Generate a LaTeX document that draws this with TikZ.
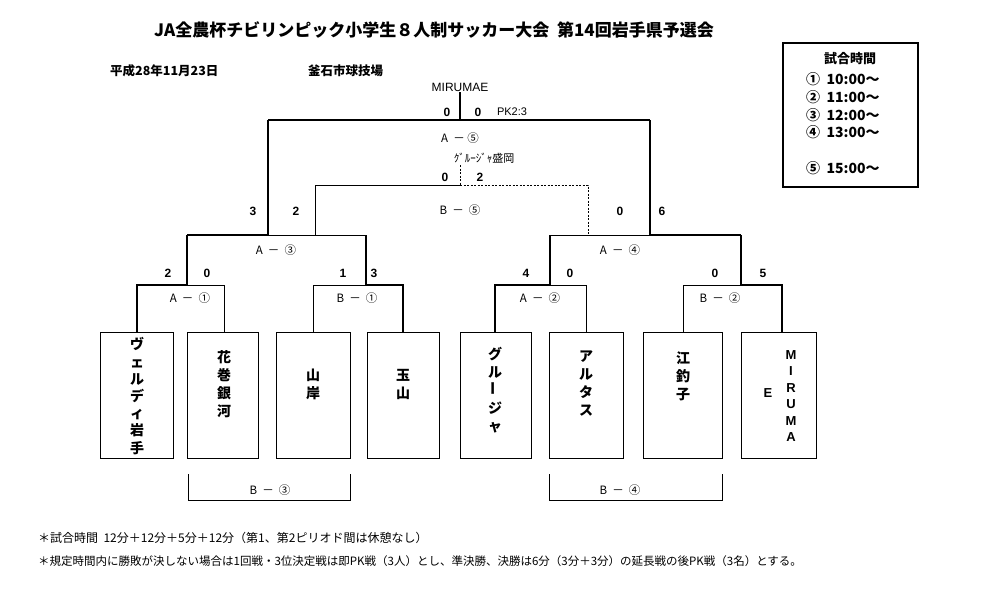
\documentclass[tikz,border=0pt]{standalone}
\usepackage{fontspec}
\usepackage{graphicx}
\setmainfont{Noto Sans CJK JP}
\newfontfamily\lat{Liberation Sans}
\begin{document}
\begin{tikzpicture}[x=1pt,y=-1pt,
  thin/.style={line width=0.7pt},
  bold/.style={line width=2.6pt},
  dsh/.style={line width=0.9pt,dash pattern=on 2pt off 1.5pt},
  box/.style={draw,line width=1pt},
  sc/.style={font=\lat\bfseries\fontsize{12}{14}\selectfont,inner sep=0pt},
  ml/.style={font=\fontsize{11.5}{13}\selectfont,inner sep=0pt},
  vt/.style={font=\bfseries\fontsize{14}{18}\selectfont,align=center,inner sep=0pt}]
\useasboundingbox (0,0) rectangle (999,606);
% leaf boxes
\foreach \n/\a/\b in {1/100/173,2/187/258,3/276/350,4/367/439,5/460/531,6/549/623,7/643/722,8/741/816}
  \draw[box] (\a,332) rectangle (\b,458);
\node[vt,font=\bfseries\fontsize{14}{17.2}\selectfont] at (137,396) {ヴ\\ェ\\ル\\デ\\ィ\\岩\\手};
\node[vt] at (224,384) {花\\巻\\銀\\河};
\node[vt] at (313,384) {山\\岸};
\node[vt] at (403,384) {玉\\山};
\node[vt] at (495,390) {グ\\ル\\{\rotatebox{90}{ー}}\\ジ\\ャ};
\node[vt] at (586,384) {ア\\ル\\タ\\ス};
\node[vt] at (683,376) {江\\釣\\子};
\node[vt,font=\lat\bfseries\fontsize{13}{16.5}\selectfont] at (791,396) {M\\I\\R\\U\\M\\A};
\node[sc,font=\lat\bfseries\fontsize{13}{15}\selectfont] at (768,393) {E};
% round 1
\draw[thin] (187,285) -- (224,285) -- (224,332);
\draw[bold] (137,332) -- (137,285) -- (187,285) -- (187,235);
\draw[thin] (313,332) -- (313,285) -- (366,285);
\draw[bold] (366,235) -- (366,285) -- (403,285) -- (403,332);
\draw[thin] (550,285) -- (586,285) -- (586,332);
\draw[bold] (495,332) -- (495,285) -- (550,285) -- (550,235);
\draw[thin] (683,332) -- (683,285) -- (741,285);
\draw[bold] (741,235) -- (741,285) -- (782,285) -- (782,332);
% semis
\draw[thin] (268,235) -- (366,235);
\draw[bold] (187,235) -- (268,235) -- (268,120);
\draw[thin] (550,235) -- (650,235);
\draw[bold] (741,235) -- (650,235) -- (650,120);
% third place
\draw[thin] (315,235) -- (315,185) -- (460,185);
\draw[dsh] (460,185) -- (588,185) -- (588,235);
\draw[dsh] (460,165) -- (460,185);
% final
\draw[bold] (268,120) -- (650,120);
\draw[bold] (460,120) -- (460,92);
% bottom brackets
\draw[thin] (188,474) -- (188,500) -- (350,500) -- (350,474);
\draw[thin] (549,474) -- (549,500) -- (722,500) -- (722,474);
\node[ml] at (270,490) {B\ \ －\ \ ③};
\node[ml] at (620,490) {B\ \ －\ \ ④};
% scores
\foreach \x/\y/\t in {447/112/0,478/112/0,445/177/0,480/177/2,253/211/3,296/211/2,620/211/0,662/211/6,
  168/273/2,207/273/0,343/273/1,374/273/3,526/273/4,570/273/0,715/273/0,763/273/5}
  \node[sc] at (\x,\y) {\t};
\node[ml,font=\lat\fontsize{11}{13}\selectfont] at (512,112) {PK2:3};
\node[ml,font=\lat\fontsize{12}{14}\selectfont] at (460,87) {MIRUMAE};
\node[ml,font=\fontsize{11}{13}\selectfont] at (484,158) {ｸﾞﾙｰｼﾞｬ盛岡};
\node[ml] at (460,138) {A\ \ －\ ⑤};
\node[ml] at (460,210) {B\ \ －\ \ ⑤};
\node[ml] at (276,250) {A\ \ －\ \ ③};
\node[ml] at (620,250) {A\ \ －\ \ ④};
\node[ml] at (190,298) {A\ \ －\ \ ①};
\node[ml] at (357,298) {B\ \ －\ \ ①};
\node[ml] at (540,298) {A\ \ －\ \ ②};
\node[ml] at (720,298) {B\ \ －\ \ ②};
% titles
\node[font=\bfseries\fontsize{17}{20}\selectfont,inner sep=0pt] at (434,30) {JA全農杯チビリンピック小学生８人制サッカー大会\ \ 第14回岩手県予選会};
\node[font=\bfseries\fontsize{12.5}{14}\selectfont,inner sep=0pt,anchor=west] at (110,71) {平成28年11月23日};
\node[font=\bfseries\fontsize{12.5}{14}\selectfont,inner sep=0pt,anchor=west] at (308,71) {釜石市球技場};
% time box
\draw[line width=1.2pt] (783,43) rectangle (918,187);
\node[font=\bfseries\fontsize{13}{15}\selectfont,inner sep=0pt] at (850,59) {試合時間};
\foreach \y/\t in {79/①\ \ 10:00～,97/②\ \ 11:00～,115/③\ \ 12:00～,132/④\ \ 13:00～,168/⑤\ \ 15:00～}
  \node[font=\bfseries\fontsize{14}{15}\selectfont,inner sep=0pt,anchor=west] at (806,\y) {\t};
% notes
\node[font=\fontsize{12}{14}\selectfont,inner sep=0pt,anchor=west] at (38,538) {＊試合時間\ \ 12分＋12分＋5分＋12分（第1、第2ピリオド間は休憩なし）};
\node[font=\fontsize{11.5}{13}\selectfont,inner sep=0pt,anchor=west] at (38,561) {＊規定時間内に勝敗が決しない場合は1回戦・3位決定戦は即PK戦（3人）とし、準決勝、決勝は6分（3分＋3分）の延長戦の後PK戦（3名）とする。};
\end{tikzpicture}
\end{document}
